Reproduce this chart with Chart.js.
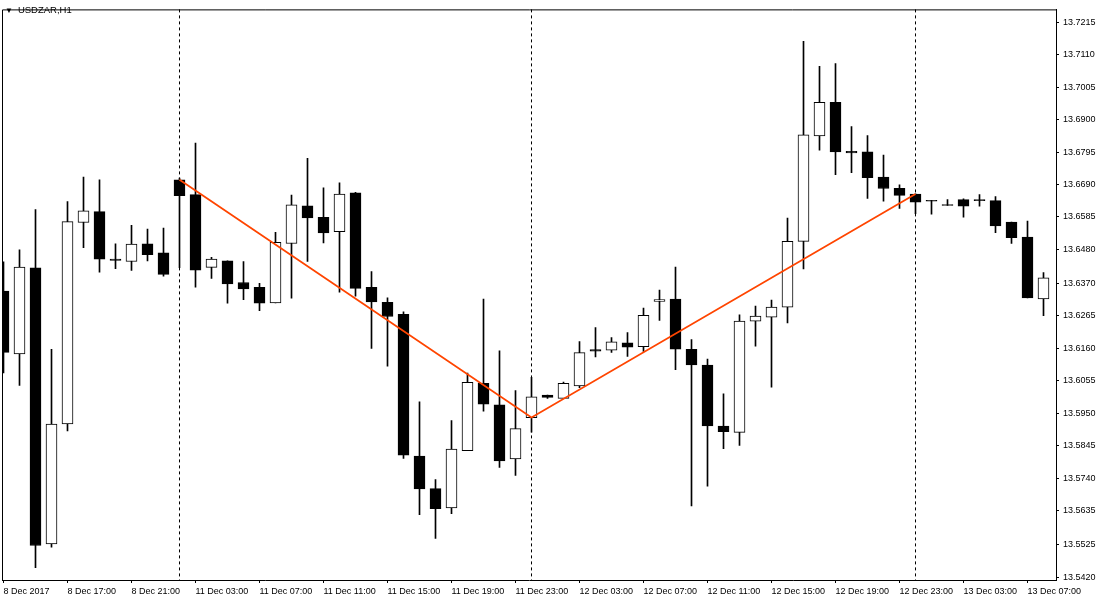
<!DOCTYPE html>
<html>
<head>
<meta charset="utf-8">
<script src="https://cdn.jsdelivr.net/npm/chart.js@4.4.1/dist/chart.umd.min.js"></script>
<style>
  body { margin: 0; background: #fff; }
  #wrap { position: relative; width: 1100px; height: 602px; }
  #title { position: absolute; left: 5px; top: 4px; font: 9.5px 'Liberation Sans', sans-serif; color: #000; white-space: nowrap; }
  #title span { font-size: 8px; margin-right: 5px; }
</style>
</head>
<body>
<div id="wrap">
  <canvas id="chart" width="1100" height="602"></canvas>
  <div id="title"><span>▼</span>USDZAR,H1</div>
</div>
<script>
const opens = [13.6345, 13.6142, 13.6420, 13.5527, 13.5915, 13.6567, 13.6602, 13.6449, 13.6441, 13.6498,
  13.6469, 13.6705, 13.6657, 13.6422, 13.6443, 13.6373, 13.6357, 13.6307, 13.6499, 13.6621,
  13.6584, 13.6537, 13.6663, 13.6357, 13.6309, 13.6270, 13.5811, 13.5706, 13.5644, 13.5829,
  13.6047, 13.5977, 13.5802, 13.5936, 13.6009, 13.5998, 13.6038, 13.6156, 13.6154, 13.6178,
  13.6165, 13.6312, 13.6319, 13.6157, 13.6106, 13.5908, 13.5888, 13.6248, 13.6261, 13.6293,
  13.6506, 13.6847, 13.6956, 13.6797, 13.6796, 13.6714, 13.6678, 13.6659, 13.6639, 13.6625,
  13.6641, 13.6641, 13.6638, 13.6568, 13.6520, 13.6320];
const highs = [13.6440, 13.6479, 13.6609, 13.6157, 13.6635, 13.6714, 13.6705, 13.6498, 13.6558, 13.6546,
  13.6549, 13.6711, 13.6824, 13.6454, 13.6443, 13.6441, 13.6370, 13.6535, 13.6656, 13.6775,
  13.6679, 13.6695, 13.6665, 13.6408, 13.6323, 13.6278, 13.5987, 13.5735, 13.5926, 13.6080,
  13.6319, 13.6152, 13.6023, 13.6066, 13.6009, 13.6051, 13.6182, 13.6227, 13.6195, 13.6211,
  13.6290, 13.6348, 13.6423, 13.6188, 13.6125, 13.6013, 13.6268, 13.6297, 13.6316, 13.6581,
  13.7153, 13.7072, 13.7081, 13.6877, 13.6848, 13.6785, 13.6689, 13.6660, 13.6639, 13.6641,
  13.6644, 13.6657, 13.6651, 13.6568, 13.6572, 13.6405];
const lows = [13.6080, 13.6040, 13.5450, 13.5517, 13.5893, 13.6486, 13.6406, 13.6418, 13.6412, 13.6443,
  13.6393, 13.6421, 13.6358, 13.6386, 13.6306, 13.6317, 13.6282, 13.6307, 13.6322, 13.6441,
  13.6501, 13.6342, 13.6329, 13.6160, 13.6102, 13.5804, 13.5622, 13.5545, 13.5625, 13.5829,
  13.5957, 13.5775, 13.5749, 13.5889, 13.5998, 13.5998, 13.6033, 13.6132, 13.6147, 13.6134,
  13.6150, 13.6250, 13.6091, 13.5650, 13.5714, 13.5835, 13.5846, 13.6167, 13.6034, 13.6242,
  13.6417, 13.6801, 13.6722, 13.6728, 13.6645, 13.6636, 13.6613, 13.6596, 13.6594, 13.6622,
  13.6584, 13.6620, 13.6534, 13.6499, 13.6323, 13.6266];
const closes = [13.6147, 13.6423, 13.5522, 13.5915, 13.6570, 13.6605, 13.6448, 13.6444, 13.6497, 13.6463,
  13.6399, 13.6654, 13.6413, 13.6449, 13.6368, 13.6352, 13.6306, 13.6503, 13.6624, 13.6582,
  13.6533, 13.6659, 13.6354, 13.6310, 13.6263, 13.5814, 13.5705, 13.5641, 13.5834, 13.6050,
  13.5979, 13.5796, 13.5900, 13.6003, 13.6001, 13.6047, 13.6146, 13.6151, 13.6181, 13.6164,
  13.6267, 13.6318, 13.6157, 13.6106, 13.5909, 13.5890, 13.6248, 13.6264, 13.6293, 13.6506,
  13.6851, 13.6956, 13.6795, 13.6792, 13.6712, 13.6677, 13.6655, 13.6633, 13.6636, 13.6622,
  13.6620, 13.6638, 13.6556, 13.6518, 13.6323, 13.6388];

// zigzag pivots (bar index, price) and the vertical markers at them
const zigzagIdx = [11, 33, 57];
const zigzagVal = [13.6705, 13.5936, 13.6659];
const separatorIdx = [11, 33, 57];

const timeLabels = ["8 Dec 2017", "8 Dec 17:00", "8 Dec 21:00", "11 Dec 03:00", "11 Dec 07:00", "11 Dec 11:00",
  "11 Dec 15:00", "11 Dec 19:00", "11 Dec 23:00", "12 Dec 03:00", "12 Dec 07:00", "12 Dec 11:00",
  "12 Dec 15:00", "12 Dec 19:00", "12 Dec 23:00", "13 Dec 03:00", "13 Dec 07:00"];
const timeLabelIdx = timeLabels.map((_, i) => i * 4);
const priceTicks = [13.7215, 13.7110, 13.7005, 13.6900, 13.6795, 13.6690, 13.6585, 13.6480, 13.6370,
  13.6265, 13.6160, 13.6055, 13.5950, 13.5845, 13.5740, 13.5635, 13.5525, 13.5420];

const FONT = "'Liberation Sans', sans-serif";

const wicks = opens.map((o, i) => ({ x: i, y: [lows[i], highs[i]] }));
const bodies = opens.map((o, i) => ({ x: i, y: [o, closes[i]] }));
const bodyColors = opens.map((o, i) => closes[i] > o ? "#ffffff" : "#000000");

const framePlugin = {
  id: "frame",
  beforeDatasetsDraw(chart) {
    const { ctx, chartArea: a, scales: { x } } = chart;
    ctx.save();
    ctx.strokeStyle = "#000";
    ctx.lineWidth = 1;
    ctx.beginPath();
    ctx.moveTo(a.left + 0.5, a.bottom);
    ctx.lineTo(a.left + 0.5, a.top + 0.5);
    ctx.lineTo(a.right, a.top + 0.5);
    ctx.stroke();
    ctx.setLineDash([3, 3]);
    separatorIdx.forEach((i) => {
      const px = x.getPixelForValue(i);
      ctx.beginPath();
      ctx.moveTo(px, a.top);
      ctx.lineTo(px, a.bottom);
      ctx.stroke();
    });
    ctx.restore();
  }
};

new Chart(document.getElementById("chart"), {
  type: "bar",
  data: {
    datasets: [
      {
        type: "line",
        data: zigzagIdx.map((x, i) => ({ x: x, y: zigzagVal[i] })),
        borderColor: "#ff4500",
        borderWidth: 1.8,
        pointRadius: 0,
        tension: 0,
        order: 0,
        clip: 0
      },
      {
        data: bodies,
        backgroundColor: bodyColors,
        borderColor: "#000000",
        borderWidth: 1,
        borderSkipped: false,
        barThickness: 11,
        grouped: false,
        order: 1,
        clip: 0
      },
      {
        data: wicks,
        backgroundColor: "#000000",
        borderWidth: 0,
        barThickness: 1,
        grouped: false,
        order: 2,
        clip: 0
      }
    ]
  },
  options: {
    responsive: false,
    animation: false,
    layout: { padding: { left: 2, top: 1, right: 0, bottom: 0 } },
    plugins: { legend: { display: false }, tooltip: { enabled: false } },
    scales: {
      x: {
        type: "linear",
        offset: false,
        min: -0.09375,
        max: 65.78125,
        afterFit(scale) { scale.height = 22; },
        afterBuildTicks(scale) { scale.ticks = timeLabelIdx.map((v) => ({ value: v })); },
        grid: { offset: false, drawOnChartArea: false, drawTicks: true, tickLength: 3, color: "#000" },
        border: { display: true, color: "#000", width: 1 },
        ticks: {
          align: "start",
          maxRotation: 0,
          autoSkip: false,
          padding: 3,
          color: "#000",
          font: { family: FONT, size: 9 },
          callback: (v, i) => timeLabels[i]
        }
      },
      y: {
        type: "linear",
        position: "right",
        min: 13.54104,
        max: 13.72565,
        afterFit(scale) { scale.width = 44; },
        afterBuildTicks(scale) { scale.ticks = priceTicks.map((v) => ({ value: v })); },
        grid: { drawOnChartArea: false, drawTicks: true, tickLength: 3, color: "#000" },
        border: { display: true, color: "#000", width: 1 },
        ticks: {
          padding: 4,
          color: "#000",
          font: { family: FONT, size: 9 },
          callback: (v) => v.toFixed(4)
        }
      }
    }
  },
  plugins: [framePlugin]
});
</script>
</body>
</html>
